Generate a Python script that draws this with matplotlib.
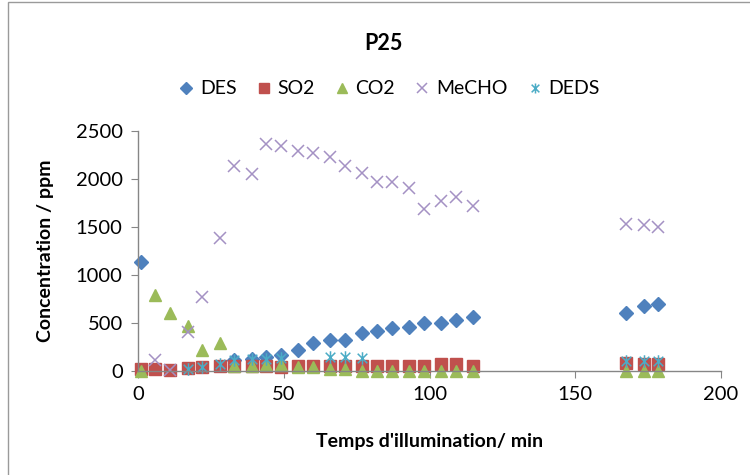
import numpy as np
import matplotlib.pyplot as plt
from matplotlib.path import Path
from matplotlib.patches import Rectangle

plt.rcParams['font.family'] = ['Lato', 'DejaVu Sans']

nan = np.nan
# temps d'illumination (min)
t = [1, 6, 11, 17, 22, 28, 33, 39, 44, 49, 55, 60, 66, 71, 77, 82, 87, 93, 98,
     104, 109, 115, 167.5, 173.5, 178.5]
des = [1140, nan, nan, nan, nan, nan, 110, 120, 145, 165, 220, 295, 325, 325,
       395, 420, 445, 455, 495, 505, 530, 560, 600, 680, 695]
so2 = [20, 20, 10, 30, 40, 55, 55, 55, 55, 45, 50, 50, 50, 50, 55, 55, 55, 55,
       55, 75, 75, 55, 80, 75, 75]
co2 = [0, 790, 600, 469, 220, 290, 50, 50, 60, 60, 40, 45, 20, 20, 0, 0, 0, 0,
       0, 0, 0, 0, 0, 0, 0]
mecho = [nan, 110, 10, 403, 775, 1390, 2135, 2052, 2365, 2344, 2292, 2267,
         2232, 2135, 2066, 1972, 1965, 1903, 1684, 1774, 1809, 1722, 1530,
         1525, 1500]
deds = [nan, nan, nan, 25, 45, 75, 110, 120, 130, 135, nan, nan, 145, 145, 140,
        nan, nan, nan, nan, nan, nan, nan, 100, 100, 105]

# asterisque style Excel : x + barre verticale
star = Path([(-1, -1), (1, 1), (-1, 1), (1, -1), (0, -1.3), (0, 1.3)],
            [Path.MOVETO, Path.LINETO, Path.MOVETO, Path.LINETO,
             Path.MOVETO, Path.LINETO])

fig = plt.figure(figsize=(7.5, 4.75), dpi=100)
ax = fig.add_axes([138 / 750, 104 / 475, 583 / 750, 240 / 475])

ax.plot(t, des, ls='none', marker='D', ms=7.5, color='#4F81BD', mec='#4F81BD',
        label='DES', clip_on=False)
ax.plot(t, so2, ls='none', marker='s', ms=8.5, color='#C0504D', mec='#C0504D',
        label='SO2', clip_on=False)
ax.plot(t, co2, ls='none', marker='^', ms=9, color='#9BBB59', mec='#9BBB59',
        label='CO2', clip_on=False)
ax.plot(t, mecho, ls='none', marker='x', ms=9, mew=1.1, color='#A491C4',
        label='MeCHO', clip_on=False)
ax.plot(t, deds, ls='none', marker=star, ms=9, mew=1.1, color='#4BACC6',
        label='DEDS', clip_on=False)

ax.set_xlim(0, 200)
ax.set_ylim(0, 2500)
ax.set_xticks([0, 50, 100, 150, 200])
ax.set_yticks([0, 500, 1000, 1500, 2000, 2500])
for s in ['top', 'right']:
    ax.spines[s].set_visible(False)
for s in ['left', 'bottom']:
    ax.spines[s].set_color('#868686')
    ax.spines[s].set_linewidth(1)
ax.tick_params(direction='out', length=5, color='#868686', labelsize=14.5,
               pad=6)

ax.set_xlabel("Temps d'illumination/ min", fontsize=14, fontweight='bold')
ax.set_ylabel('Concentration / ppm', fontsize=14, fontweight='bold')
ax.xaxis.set_label_coords(0.5, -62 / 240)
ax.yaxis.set_label_coords(-84 / 583, 0.5)
fig.text(383 / 750, 1 - 43 / 475, 'P25', ha='center', va='center',
         fontsize=15.5, fontweight='bold')

fig.legend(loc='center', bbox_to_anchor=(390 / 750, 1 - 89 / 475), ncol=5,
           frameon=False, fontsize=14, handlelength=0.6, handletextpad=0.4,
           columnspacing=1.1, markerscale=0.8)

fig.patches.append(Rectangle((8 / 750, -0.1), 1.2, 1 - 2 / 475 + 0.1,
                             transform=fig.transFigure, fill=False,
                             edgecolor='#9a9a9a', lw=1))

fig.savefig('out.png', dpi=100)
